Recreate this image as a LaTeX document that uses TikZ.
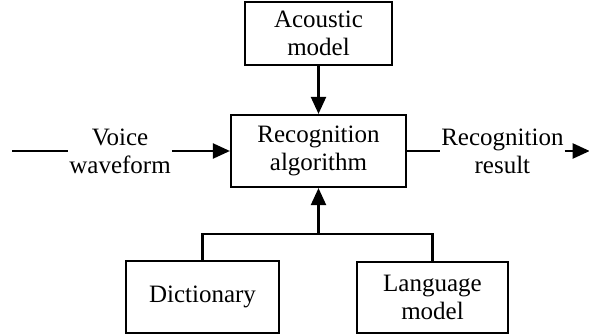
\documentclass[tikz,border=0pt]{standalone}
\usepackage{fontspec}
\setmainfont{Liberation Serif}
\usetikzlibrary{arrows.meta,positioning}

\begin{document}
\begin{tikzpicture}[
  x=1pt, y=1pt,
  block/.style={rectangle, draw, line width=2.2pt, align=center, inner sep=0pt, font=\fontsize{25}{28}\selectfont},
  sigtext/.style={align=center, inner sep=1pt, font=\fontsize{25}{28}\selectfont},
  arrow/.style={-{Triangle[length=17pt,width=15pt]}, line width=2.2pt},
  wire/.style={line width=2.2pt}
]
  \useasboundingbox (0,0) rectangle (589,-336);
  \node[block, minimum width=175pt, minimum height=72pt] (recog) at (318.5,-151) {Recognition\\algorithm};
  \node[block, minimum width=147pt, minimum height=63pt, above=48pt of recog] (acoustic) {Acoustic\\model};
  \node[block, minimum width=153pt, minimum height=72pt, below=72pt of recog, xshift=-116pt] (dict) {Dictionary};
  \node[block, minimum width=151pt, minimum height=71pt, below=73pt of recog, xshift=114pt] (lang) {Language\\model};
  \node[sigtext, left=58pt of recog] (voice) {Voice\\waveform};
  \node[sigtext, right=33pt of recog] (result) {Recognition\\result};
  \coordinate[left=56pt of voice] (in);
  \coordinate[right=25pt of result] (out);
  \coordinate (bus) at (recog.south |- 0,-234);

  \draw[wire] (in) -- (voice);
  \draw[arrow] (voice) -- (recog);
  \draw[wire] (recog) -- (result);
  \draw[arrow] (result) -- (out);
  \draw[arrow] (acoustic) -- (recog);
  \draw[wire] (dict.north) |- (bus) -| (lang.north);
  \draw[arrow] (bus) -- (recog.south);
\end{tikzpicture}
\end{document}
